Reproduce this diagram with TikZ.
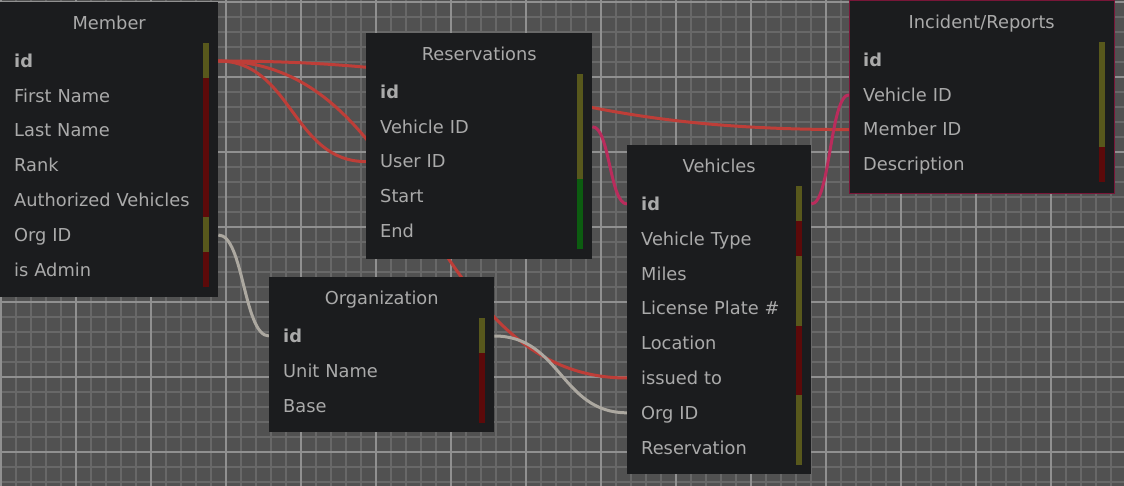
\documentclass[tikz,border=0pt]{standalone}
\usepackage{fontspec}
\setmainfont{DejaVu Sans}
\usepackage{xcolor}
\usepackage{tikz}
\usetikzlibrary{
	backgrounds,
	calc,
	positioning
}
\definecolor{canvas}{RGB}{81,81,81}
\definecolor{minorgrid}{RGB}{104,104,104}
\definecolor{majorgrid}{RGB}{144,144,144}
\definecolor{boxbg}{RGB}{27,28,30}
\definecolor{boxtext}{RGB}{170,170,170}
\definecolor{keyolive}{RGB}{88,88,28}
\definecolor{keyred}{RGB}{92,10,10}
\definecolor{keygreen}{RGB}{12,92,16}
\definecolor{linkred}{RGB}{190,62,56}
\definecolor{linkpink}{RGB}{186,44,92}
\definecolor{linkgray}{RGB}{172,168,160}
\definecolor{incborder}{RGB}{120,22,56}
\pgfdeclarelayer{grid}
\pgfdeclarelayer{links}
\pgfsetlayers{grid,links,main}
\tikzset{
	tablebox/.style={fill=boxbg, anchor=north west, inner sep=0pt},
	tabletitle/.style={text=boxtext, font=\fontsize{17.8}{21}\selectfont, inner sep=0pt,
		text height=16pt, text depth=3.2pt},
	field/.style={text=boxtext, font=\fontsize{17.8}{21}\selectfont, anchor=west, align=left,
		text height=16pt, text depth=3.2pt, minimum height=34.8pt, inner xsep=14pt, inner ysep=0pt},
	link/.style={line width=3pt},
	minorline/.style={minorgrid, line width=2pt},
	majorline/.style={majorgrid, line width=2pt}
}

\begin{document}
\begin{tikzpicture}[x=1pt, y=-1pt]
	\useasboundingbox (0,0) rectangle (1124,486);

	% Grid
	\begin{pgfonlayer}{grid}
		\fill[canvas] (0,0) rectangle (1124,486);
		\foreach \x in {1,16,...,1111} {
			\draw[minorline] (\x,0) -- (\x,486);
		}
		\foreach \y in {2,17,...,482} {
			\draw[minorline] (0,\y) -- (1124,\y);
		}
		\foreach \x in {1,76,...,1051} {
			\draw[majorline] (\x,0) -- (\x,486);
		}
		\foreach \y in {2,77,...,452} {
			\draw[majorline] (0,\y) -- (1124,\y);
		}
	\end{pgfonlayer}

	% Tables
		% Draws an empty table with its upper left corner at the given point
		\newcommand\dbtable[6]{
			\node[tablebox, minimum width=#4pt, minimum height=#5pt] (#1) at (#2,#3) {};
			\node[tabletitle] (#1-title) at ($(#1.north)+(0,21)$) {#6};
		}
		% Rows of a table, each with its part of the key bar
		\newcommand\dbfields[3]{
			\pgfmathsetmacro\fieldwidth{#2-28}
			\foreach \key/\fieldtext/\barcol [count=\i] in {#3} {
				\node[field, text width=\fieldwidth pt] (#1-\key) at ($(#1.north west)+(0,{59+34.8*(\i-1)})$) {\fieldtext};
				\fill[\barcol] ($(#1-\key.north east)+(-15,0)$) rectangle ($(#1-\key.south east)+(-9,0)$);
			}
		}
		\dbtable{member}{0}{2}{218}{295}{Member}
		\dbfields{member}{218}{id/\textbf{id}/keyolive, first/First Name/keyred, last/Last Name/keyred,
			rank/Rank/keyred, auth/Authorized Vehicles/keyred, org/Org ID/keyolive, admin/is Admin/keyred}

		\dbtable{res}{366}{33}{226}{226}{Reservations}
		\dbfields{res}{226}{id/\textbf{id}/keyolive, vehicle/Vehicle ID/keyolive, user/User ID/keyolive,
			start/Start/keygreen, end/End/keygreen}

		\dbtable{veh}{627}{145}{184}{329}{Vehicles}
		\dbfields{veh}{184}{id/\textbf{id}/keyolive, type/Vehicle Type/keyred, miles/Miles/keyolive,
			plate/License Plate \#/keyolive, location/Location/keyred, issued/issued to/keyred,
			org/Org ID/keyolive, reservation/Reservation/keyolive}

		\dbtable{org}{269}{277}{225}{155}{Organization}
		\dbfields{org}{225}{id/\textbf{id}/keyolive, unit/Unit Name/keyred, base/Base/keyred}

		\dbtable{inc}{849}{1}{265}{192}{Incident/Reports}
		\draw[incborder, line width=1pt] (inc.north west) rectangle (inc.south east);
		\dbfields{inc}{265}{id/\textbf{id}/keyolive, vehicle/Vehicle ID/keyolive, member/Member ID/keyolive,
			desc/Description/keyred}

	% Links
		% Curve leaving and entering horizontally, bending half way
		\newcommand\link[3]{
			\path (#1) coordinate (a) (#2) coordinate (b) ($(a)!0.5!(b)$) coordinate (m);
			\draw[link, #3] (a) .. controls (m |- a) and (m |- b) .. (b);
		}
		\begin{pgfonlayer}{links}
			\link{member-id.east}{inc-member.west}{linkred}
			\link{member-id.east}{veh-issued.west}{linkred}
			\link{member-id.east}{res-user.west}{linkred}
			\link{res-vehicle.east}{veh-id.west}{linkpink}
			\link{veh-id.east}{inc-vehicle.west}{linkpink}
			\link{member-org.east}{org-id.west}{linkgray}
			\link{org-id.east}{veh-org.west}{linkgray}
		\end{pgfonlayer}
\end{tikzpicture}
\end{document}
